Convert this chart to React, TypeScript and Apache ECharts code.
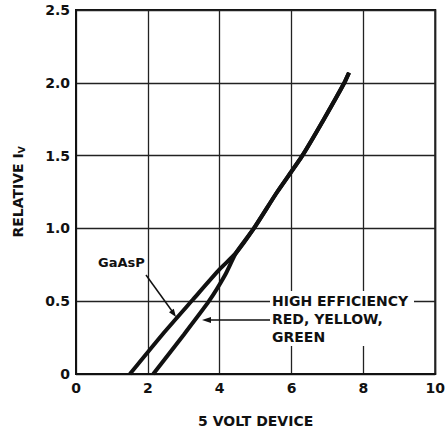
import React, { useEffect, useRef } from "react";
import * as echarts from "echarts";

const gaAsPX = [1.5, 2.4, 3.25, 4.0, 4.45, 4.95, 5.6, 6.3, 6.9, 7.47, 7.6];
const gaAsPY = [0, 0.27, 0.51, 0.72, 0.83, 1.0, 1.25, 1.5, 1.75, 2.0, 2.07];
const heX = [2.15, 3.0, 3.7, 4.15, 4.45, 4.95, 5.6, 6.3, 6.9, 7.47, 7.6];
const heY = [0, 0.27, 0.5, 0.68, 0.83, 1.0, 1.25, 1.5, 1.75, 2.0, 2.07];
const xTicks = [0, 2, 4, 6, 8, 10];
const yTicks = [0, 0.5, 1.0, 1.5, 2.0, 2.5];

const FONT = "DejaVu Sans";
const INK = "#111";

export default function App() {
  const ref = useRef<HTMLDivElement>(null);
  useEffect(() => {
    if (!ref.current) return;
    const chart = echarts.init(ref.current, null, { renderer: "svg" });
    const toPairs = (xs: number[], ys: number[]) => xs.map((x, i) => [x, ys[i]]);
    chart.setOption({
      animation: false,
      backgroundColor: "#fff",
      grid: {
        left: 76,
        right: 9,
        top: 10,
        bottom: 63,
        show: true,
        borderColor: INK,
        borderWidth: 2,
      },
      xAxis: {
        type: "value",
        min: xTicks[0],
        max: xTicks[xTicks.length - 1],
        interval: 2,
        name: "5 VOLT DEVICE",
        nameLocation: "middle",
        nameGap: 40,
        nameTextStyle: { fontFamily: FONT, fontWeight: "bold", fontSize: 14, color: INK },
        axisLine: { show: true, lineStyle: { color: INK, width: 2 } },
        axisTick: { show: false },
        axisLabel: { margin: 7, fontFamily: FONT, fontWeight: "bold", fontSize: 14, color: INK },
        splitLine: { show: true, lineStyle: { color: "#222", width: 1.3 } },
      },
      yAxis: {
        type: "value",
        min: yTicks[0],
        max: yTicks[yTicks.length - 1],
        interval: 0.5,
        name: "RELATIVE I{sub|V}",
        nameLocation: "middle",
        nameGap: 50,
        nameTextStyle: {
          fontFamily: FONT,
          fontWeight: "bold",
          fontSize: 14,
          color: INK,
          lineHeight: 16,
          rich: {
            sub: { fontFamily: FONT, fontWeight: "bold", fontSize: 9, color: INK, lineHeight: 9, verticalAlign: "bottom" },
          },
        },
        axisLine: { show: true, lineStyle: { color: INK, width: 2 } },
        axisTick: { show: false },
        axisLabel: {
          margin: 6,
          fontFamily: FONT,
          fontWeight: "bold",
          fontSize: 14,
          color: INK,
          formatter: (v: number) => (v === 0 ? "0" : v.toFixed(1)),
        },
        splitLine: { show: true, lineStyle: { color: "#222", width: 1.3 } },
      },
      series: [
        {
          name: "GaAsP",
          type: "line",
          data: toPairs(gaAsPX, gaAsPY),
          showSymbol: false,
          smooth: 0.2,
          lineStyle: { color: INK, width: 4 },
          z: 5,
        },
        {
          name: "HIGH EFFICIENCY RED, YELLOW, GREEN",
          type: "line",
          data: toPairs(heX, heY),
          showSymbol: false,
          smooth: 0.2,
          lineStyle: { color: INK, width: 4 },
          z: 5,
        },
      ],
      graphic: [
        {
          type: "text",
          x: 98,
          y: 262,
          z: 100,
          style: { text: "GaAsP", fontFamily: FONT, fontWeight: "bold", fontSize: 13, fill: INK, verticalAlign: "middle" },
        },
        {
          type: "line",
          z: 100,
          shape: { x1: 146, y1: 275, x2: 172, y2: 311 },
          style: { stroke: INK, lineWidth: 1.5 },
        },
        {
          type: "polygon",
          z: 100,
          shape: { points: [[176, 317], [173.8, 308.8], [169.0, 312.2]] },
          style: { fill: INK },
        },
        {
          type: "rect",
          z: 90,
          shape: { x: 270, y: 291, width: 144, height: 55 },
          style: { fill: "#fff" },
        },
        {
          type: "text",
          x: 272,
          y: 292,
          z: 100,
          style: {
            text: "HIGH EFFICIENCY\nRED, YELLOW,\nGREEN",
            fontFamily: FONT,
            fontWeight: "bold",
            fontSize: 14,
            lineHeight: 18,
            fill: INK,
            verticalAlign: "top",
          },
        },
        {
          type: "line",
          z: 100,
          shape: { x1: 208, y1: 320, x2: 270, y2: 320 },
          style: { stroke: INK, lineWidth: 1.5 },
        },
        {
          type: "polygon",
          z: 100,
          shape: { points: [[202, 320], [211, 317], [211, 323]] },
          style: { fill: INK },
        },
      ],
    });
    return () => chart.dispose();
  }, []);
  return (
    <div
      ref={ref}
      style={{ position: "absolute", left: 0, top: 0, width: 448, height: 437, background: "#fff" }}
    />
  );
}
